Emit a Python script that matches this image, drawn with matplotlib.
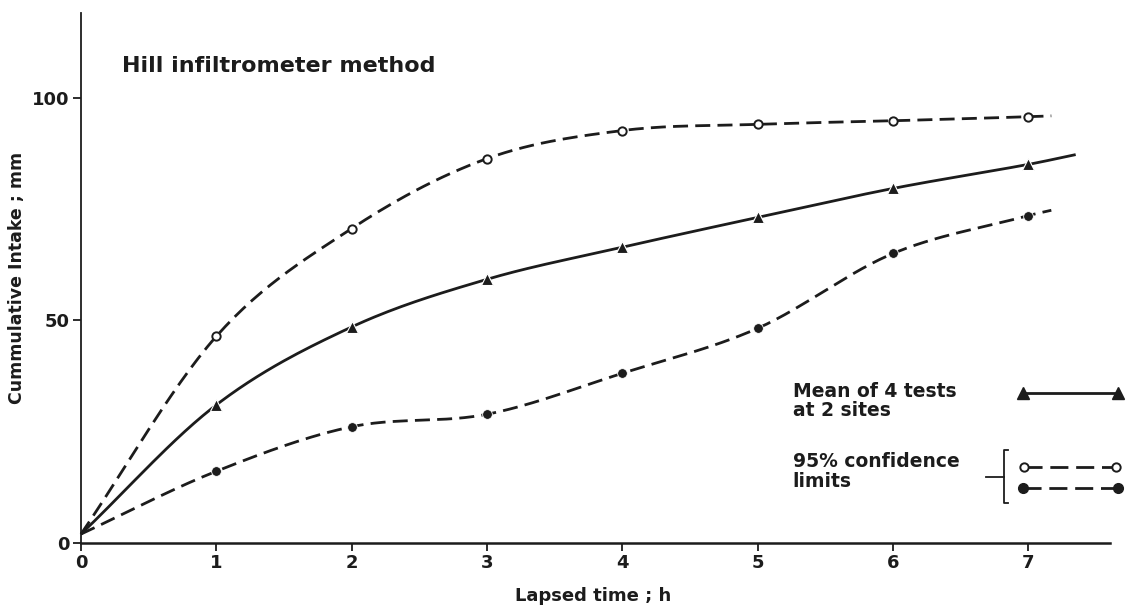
import numpy as np
import matplotlib
matplotlib.use("Agg")
import matplotlib.pyplot as plt

# ---- data ----
hours = [0, 1, 2, 3, 4, 5, 6, 7]
mean_intake = [2, 31, 48.5, 59.2, 66.4, 73.1, 79.6, 85.0]
upper_limit = [2, 46.4, 70.6, 86.3, 92.6, 94.0, 94.8, 95.7]
lower_limit = [2, 16.1, 26.1, 28.9, 38.1, 48.2, 65.0, 73.5]
# where each drawn curve ends beyond the last measured point
mean_end = (7.35, 87.2)
upper_end = (7.17, 95.9)
lower_end = (7.17, 74.7)
x_ticks = [0, 1, 2, 3, 4, 5, 6, 7]
y_ticks = [0, 50, 100]

INK = "#1c1c1c"
plt.rcParams['font.family'] = ['DejaVu Sans']
plt.rcParams['font.weight'] = 'bold'


def smooth(xs, ys, n=30):
    """Cubic Hermite (Catmull-Rom style tangents) rendering of a line through the points."""
    xs = np.asarray(xs, float)
    ys = np.asarray(ys, float)
    m = np.zeros_like(ys)
    m[0] = (ys[1] - ys[0]) / (xs[1] - xs[0])
    m[-1] = (ys[-1] - ys[-2]) / (xs[-1] - xs[-2])
    for i in range(1, len(xs) - 1):
        m[i] = (ys[i + 1] - ys[i - 1]) / (xs[i + 1] - xs[i - 1])
    ox, oy = [], []
    for i in range(len(xs) - 1):
        h = xs[i + 1] - xs[i]
        t = np.linspace(0, 1, n, endpoint=False)
        h00 = 2 * t**3 - 3 * t**2 + 1
        h10 = t**3 - 2 * t**2 + t
        h01 = -2 * t**3 + 3 * t**2
        h11 = t**3 - t**2
        ox.append(xs[i] + t * h)
        oy.append(h00 * ys[i] + h10 * h * m[i] + h01 * ys[i + 1] + h11 * h * m[i + 1])
    ox.append([xs[-1]])
    oy.append([ys[-1]])
    return np.concatenate(ox), np.concatenate(oy)


fig = plt.figure(figsize=(11.31, 6.09), dpi=100)
ax = fig.add_axes([0.0716, 0.1084, 0.9094, 0.8703])
ax.set_xlim(0, 7.6)
ax.set_ylim(0, 119)

lw = 2.0
dash = (5.4, 2.6)

# curves
cx, cy = smooth(hours + [mean_end[0]], mean_intake + [mean_end[1]])
ax.plot(cx, cy, color=INK, lw=lw, solid_capstyle='butt', clip_on=False)
cx, cy = smooth(hours + [upper_end[0]], upper_limit + [upper_end[1]])
ax.plot(cx, cy, color=INK, lw=lw, dashes=dash, clip_on=False)
cx, cy = smooth(hours + [lower_end[0]], lower_limit + [lower_end[1]])
ax.plot(cx, cy, color=INK, lw=lw, dashes=dash, clip_on=False)

# markers
ax.plot(hours[1:], mean_intake[1:], ls='none', marker='^', ms=9, color=INK,
        mec='white', mew=0.8, clip_on=False, zorder=4)
ax.plot(hours[1:], upper_limit[1:], ls='none', marker='o', ms=6, mfc='white',
        mec=INK, mew=1.4, clip_on=False, zorder=4)
ax.plot(hours[1:], lower_limit[1:], ls='none', marker='o', ms=7, color=INK,
        mec='white', mew=0.6, clip_on=False, zorder=4)

# axes styling
for s in ['top', 'right']:
    ax.spines[s].set_visible(False)
ax.spines['left'].set_linewidth(1.3)
ax.spines['bottom'].set_linewidth(1.8)
ax.spines['left'].set_color(INK)
ax.spines['bottom'].set_color(INK)
ax.set_xticks(x_ticks)
ax.set_yticks(y_ticks)
ax.set_xticklabels([str(v) for v in x_ticks])
ax.set_yticklabels([str(v) for v in y_ticks])
ax.tick_params(axis='both', direction='out', length=6, width=1.3, colors=INK,
               labelsize=13, pad=2)

ax.set_xlabel("Lapsed time ; h", fontsize=13, fontweight='bold', color=INK)
ax.xaxis.set_label_coords(0.498, -0.083)
ax.set_ylabel("Cummulative Intake ; mm", fontsize=12.5, fontweight='bold', color=INK)
ax.yaxis.set_label_coords(-0.053, 0.5)

ax.text(0.30, 105.7, "Hill infiltrometer method", fontsize=16, fontweight='bold',
        color=INK, ha='left', va='baseline')

# legend (drawn by hand, as in the reference)
leg_fs = 13.5
ax.text(5.26, 32.7, "Mean of 4 tests", fontsize=leg_fs, color=INK, ha='left', va='baseline')
ax.text(5.26, 28.5, "at 2 sites", fontsize=leg_fs, color=INK, ha='left', va='baseline')
ax.text(5.26, 17.0, "95% confidence", fontsize=leg_fs, color=INK, ha='left', va='baseline')
ax.text(5.26, 12.6, "limits", fontsize=leg_fs, color=INK, ha='left', va='baseline')

ax.plot([6.96, 7.66], [33.7, 33.7], color=INK, lw=lw, clip_on=False)
ax.plot([6.96, 7.66], [33.7, 33.7], ls='none', marker='^', ms=8.5, color=INK,
        clip_on=False)
ax.plot([6.97, 7.65], [17.1, 17.1], color=INK, lw=lw, dashes=(6.5, 2.8), clip_on=False)
ax.plot([6.97, 7.65], [17.1, 17.1], ls='none', marker='o', ms=6, mfc='white',
        mec=INK, mew=1.4, clip_on=False)
ax.plot([6.96, 7.66], [12.3, 12.3], color=INK, lw=lw, dashes=(6.5, 2.8), clip_on=False)
ax.plot([6.96, 7.66], [12.3, 12.3], ls='none', marker='o', ms=7, color=INK,
        clip_on=False)
# bracket
ax.plot([6.85, 6.82, 6.82, 6.85], [20.9, 20.9, 9.0, 9.0], color=INK, lw=1.3,
        clip_on=False)
ax.plot([6.69, 6.82], [14.8, 14.8], color=INK, lw=1.3, clip_on=False)

fig.savefig("out.png", dpi=100, facecolor='white')
